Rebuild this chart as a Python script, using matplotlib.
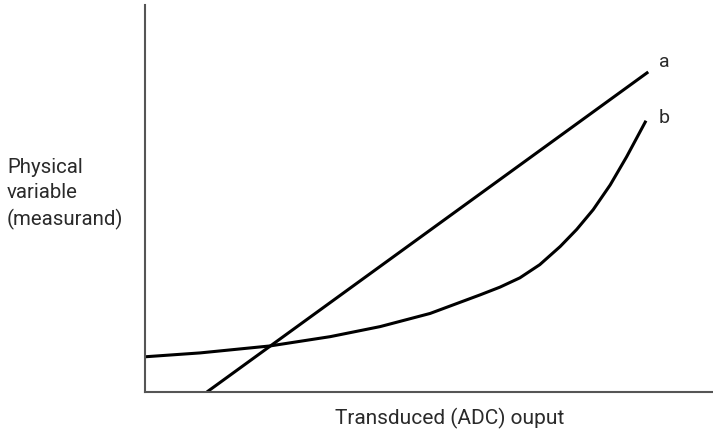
import numpy as np
import matplotlib
matplotlib.use('Agg')
import matplotlib.pyplot as plt

# =============================================================================
#  Data (arbitrary units 0..10)
# =============================================================================

# Line a: linear response
a_x = [1.09, 8.86]
a_y = [0.00, 8.27]

# Curve b: non-linear response
b_x = [0.00, 0.97, 2.20, 3.26, 4.14, 5.02, 5.90, 6.25, 6.60, 6.95, 7.31, 7.60,
       7.89, 8.19, 8.48, 8.82]
b_y = [0.91, 1.01, 1.19, 1.43, 1.69, 2.03, 2.51, 2.71, 2.95, 3.29, 3.76, 4.20,
       4.71, 5.35, 6.08, 7.01]

label_a = 'a'
label_b = 'b'
xlabel = 'Transduced (ADC) ouput'
ylabel = 'Physical\nvariable\n(measurand)'

# =============================================================================

plt.rcParams['font.family'] = ['Roboto', 'DejaVu Sans']

fig = plt.figure(figsize=(7.13, 4.30), dpi=100)
ax = fig.add_axes([145 / 713, 38 / 430, 568 / 713, 387 / 430])

ax.plot(a_x, a_y, color='black', lw=2.2, solid_capstyle='butt')
ax.plot(b_x, b_y, color='black', lw=2.2, solid_capstyle='butt', solid_joinstyle='round')

# curve labels next to the line ends
ax.text(a_x[-1] + 0.28, a_y[-1] + 0.26, label_a, ha='center', va='center',
        fontsize=14, color='#2a2a2a')
ax.text(b_x[-1] + 0.32, b_y[-1] + 0.08, label_b, ha='center', va='center',
        fontsize=14, color='#2a2a2a')

ax.set_xlim(0, 10)
ax.set_ylim(0, 10)
ax.set_xticks([])
ax.set_yticks([])
for side in ['top', 'right']:
    ax.spines[side].set_visible(False)
for side in ['left', 'bottom']:
    ax.spines[side].set_color('#555555')
    ax.spines[side].set_linewidth(1.5)

ax.set_xlabel(xlabel, fontsize=15, color='#2a2a2a')
ax.xaxis.set_label_coords((450 - 145) / 568, -(418 - 392) / 387, transform=ax.transAxes)
ax.xaxis.label.set_va('center')

fig.text(7 / 713, 1 - 194 / 430, ylabel, ha='left', va='center',
         fontsize=14.7, color='#2a2a2a', linespacing=1.38)

fig.savefig('out.png', dpi=100)
